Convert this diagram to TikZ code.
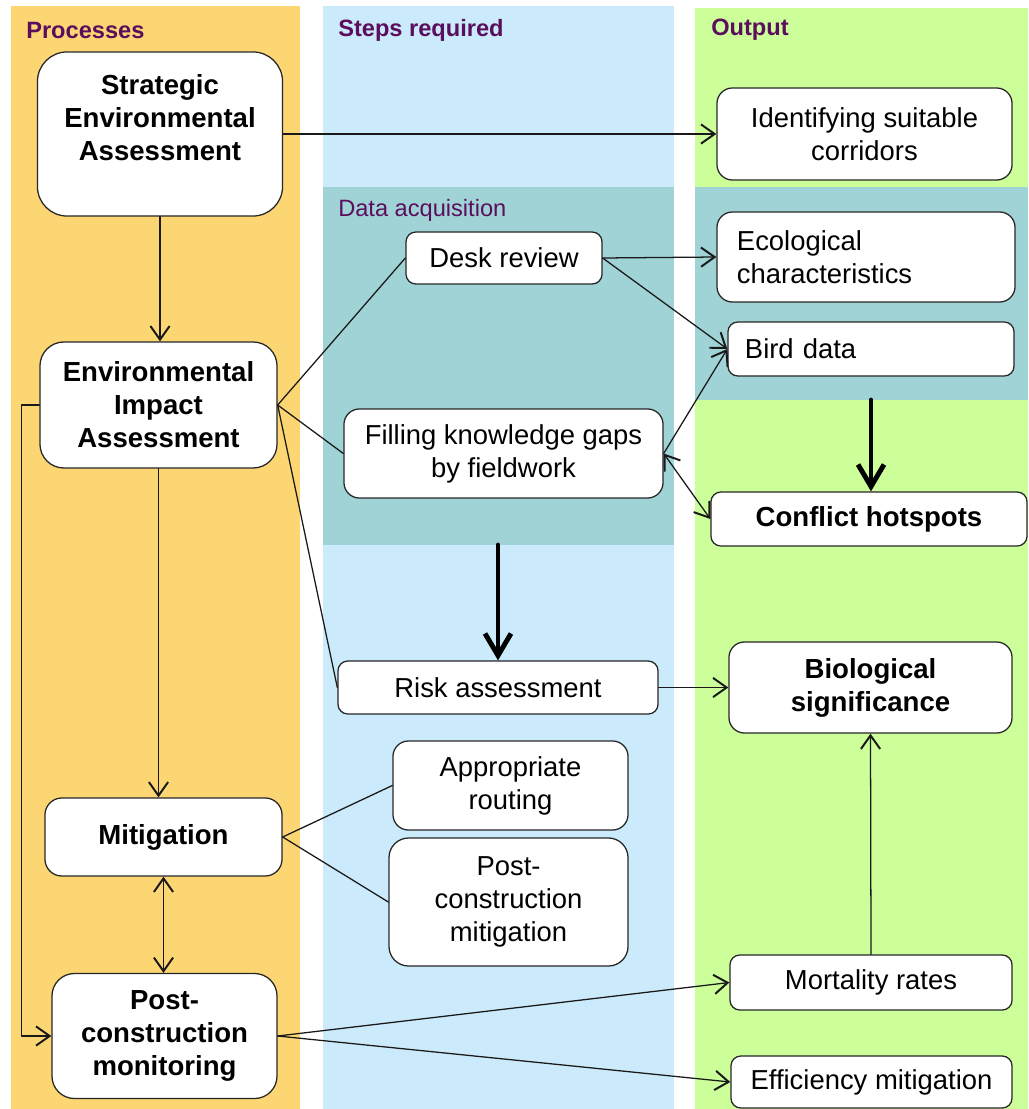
\documentclass[tikz,border=0pt]{standalone}
\usepackage{fontspec}
\setmainfont{Liberation Sans}
\usepackage{xcolor}
\usetikzlibrary{arrows.meta,calc,positioning}
\definecolor{procbg}{HTML}{FDD674}
\definecolor{stepbg}{HTML}{CBEBFC}
\definecolor{outbg}{HTML}{CCFF99}
\definecolor{acqbg}{HTML}{9FD3D6}
\definecolor{hdrpurple}{HTML}{5C0E5E}
\tikzset{
  box/.style={draw=black!85, fill=white, line width=0.9pt, rounded corners=7pt, align=center, inner sep=0pt},
  normtxt/.style={font=\fontsize{19.5pt}{23.5pt}\selectfont},
  boldtxt/.style={font=\bfseries\fontsize{19.6pt}{23.5pt}\selectfont},
  hdr/.style={anchor=west, inner sep=0pt, text=hdrpurple, font=\bfseries\fontsize{16.8pt}{18pt}\selectfont},
  link/.style={draw=black!90, line width=0.9pt},
  arr/.style={link, -{Straight Barb[length=3.4mm,width=4.8mm,line width=1.4pt]}},
  biarr/.style={link, {Straight Barb[length=3.4mm,width=4.8mm,line width=1.4pt]}-{Straight Barb[length=3.4mm,width=4.8mm,line width=1.4pt]}},
  fatarr/.style={draw=black, line width=3.5pt, -{Straight Barb[length=5.5mm,width=6.5mm]}},
  every picture/.style={line cap=round, line join=round}
}

\begin{document}
\begin{tikzpicture}[x=0.025cm, y=-0.025cm]
  \useasboundingbox (0,0) rectangle (1028,1109);

  % columns
  \fill[procbg] (11,6) rectangle (300,1109);
  \fill[stepbg] (323,6) rectangle (674,1109);
  \fill[outbg] (695,8) rectangle (1028,1109);
  \fill[acqbg] (323,187) rectangle (674,545);
  \fill[acqbg] (695,187) rectangle (1028,400);
  \coordinate (acqbot) at (498,545);
  \coordinate (tealbot) at (871,400);

  \node[hdr] (hproc) at (26,30) {Processes};
  \node[hdr] (hstep) at (338,30) {Steps required};
  \node[hdr] (hout) at (711,30) {Output};
  \node[anchor=west, inner sep=0pt, text=hdrpurple, font=\fontsize{16.8pt}{18pt}\selectfont] (hacq) at (338,210) {Data acquisition};

  % processes
  \node[box, boldtxt, rounded corners=21pt, minimum width=6.125cm, minimum height=4.1cm] (sea) at (160,134) {Strategic\\Environmental\\Assessment\\ \mbox{}};
  \node[box, boldtxt, rounded corners=17pt, minimum width=5.925cm, minimum height=3.15cm] (eia) at (158.5,405) {Environmental\\Impact\\Assessment};
  \node[box, boldtxt, rounded corners=12pt, minimum width=5.925cm, minimum height=1.95cm] (mitig) at (163.5,837) {Mitigation};
  \node[box, boldtxt, rounded corners=16pt, minimum width=5.625cm, minimum height=3.125cm] (pcm) at (164.5,1036) {Post-\\construction\\monitoring};

  % steps required
  \node[box, normtxt, minimum width=4.9cm, minimum height=1.3cm] (desk) at (504,258) {Desk review};
  \node[box, normtxt, rounded corners=11pt, minimum width=7.975cm, minimum height=2.225cm] (fill) at (503.5,453.5) {Filling knowledge gaps\\by fieldwork};
  \node[box, normtxt, minimum width=8cm, minimum height=1.325cm] (risk) at (498,687.5) {Risk assessment};
  \node[box, normtxt, rounded corners=11pt, minimum width=5.875cm, minimum height=2.225cm] (route) at (510.5,785.5) {Appropriate\\routing};
  \node[box, normtxt, rounded corners=14pt, minimum width=5.975cm, minimum height=3.2cm] (pcmit) at (508.5,902) {Post-\\construction\\mitigation};

  % output
  \node[box, normtxt, rounded corners=11pt, minimum width=7.375cm, minimum height=2.3cm] (corr) at (864.5,134) {Identifying suitable\\corridors};
  \node[box, normtxt, rounded corners=11pt, align=left, text width=6.45cm, inner xsep=0.5cm, minimum height=2.25cm] (eco) at (866,257) {Ecological\\characteristics};
  \node[box, normtxt, align=left, text width=6.3cm, inner xsep=0.425cm, minimum height=1.35cm] (bird) at (871,349) {Bird data};
  \node[box, boldtxt, minimum width=7.9cm, minimum height=1.35cm] (hot) at (869,519) {Conflict hotspots};
  \node[box, boldtxt, rounded corners=11pt, minimum width=7.075cm, minimum height=2.275cm] (bio) at (870.5,687.5) {Biological\\significance};
  \node[box, normtxt, minimum width=7.05cm, minimum height=1.375cm] (mort) at (871,982.5) {Mortality rates};
  \node[box, normtxt, minimum width=7.025cm, minimum height=1.3cm] (eff) at (871.5,1082) {Efficiency mitigation};

  % connectors
  \draw[arr] (sea.east) -- (corr.west);
  \draw[arr] (sea.south) -- (sea.south |- eia.north);
  \draw[link] (eia.east) -- (desk.west);
  \draw[link] (eia.east) -- (fill.west);
  \draw[link] (eia.east) -- (risk.west);
  \draw[arr] (eia.south) -- (eia.south |- mitig.north);
  \draw[arr] (eia.west) -- ++(-18,0) |- (pcm.west);
  \draw[biarr] (mitig.south) -- (mitig.south |- pcm.north);
  \draw[link] (mitig.east) -- (route.west);
  \draw[link] (mitig.east) -- (pcmit.west);
  \draw[arr] (pcm.east) -- (mort.west);
  \draw[arr] (pcm.east) -- (eff.west);
  \draw[arr] (desk.east) -- (eco.west);
  \draw[arr] (desk.east) -- (bird.west);
  \draw[arr] (fill.east) -- (bird.west);
  \draw[biarr] (fill.east) -- (hot.west);
  \draw[arr] (risk.east) -- (risk.east -| bio.west);
  \draw[arr] (mort.north) -- (bio.south);
  \draw[fatarr] (acqbot) -- (risk.north);
  \draw[fatarr] (tealbot) -- (tealbot |- hot.north);
\end{tikzpicture}
\end{document}
